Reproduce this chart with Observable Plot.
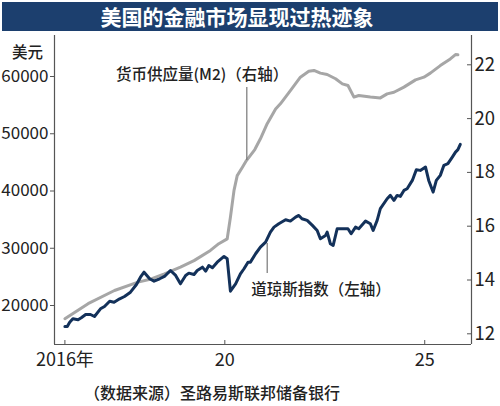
<!DOCTYPE html>
<html><head><meta charset="utf-8">
<script src="https://cdn.jsdelivr.net/npm/d3@7"></script>
<script src="https://cdn.jsdelivr.net/npm/@observablehq/plot@0.6"></script>
<style>
body{margin:0;background:#fff;width:500px;height:406px;position:relative;overflow:hidden;font-family:'Noto Sans CJK SC',sans-serif;}
#title{position:absolute;left:2px;top:2px;width:496px;height:29px;box-sizing:border-box;padding-right:26px;background:#1c3f6e;color:#fff;font-weight:bold;font-size:21px;line-height:29px;text-align:center;}
#chart{position:absolute;left:0;top:33px;}
#unit{position:absolute;left:12px;top:40px;font-size:15.5px;font-weight:500;color:#222;}
#caption{position:absolute;left:84px;top:380px;font-size:16px;font-weight:500;color:#222;}
</style>
</head><body>
<div id="title"></div>
<div id="chart"></div>
<div id="unit"></div>
<div id="caption"></div>
<script>
const titleText = "美国的金融市场显现过热迹象";
const captionText = "（数据来源）圣路易斯联邦储备银行";
const unitText = "美元";
const m2Label = "货币供应量(M2)（右轴）";
const dowLabel = "道琼斯指数（左轴）";

const dowYear = [2016.0,2016.06,2016.12,2016.2,2016.33,2016.41,2016.52,2016.64,2016.74,2016.89,
 2016.99,2017.12,2017.23,2017.37,2017.49,2017.64,2017.79,2017.89,2017.98,2018.12,
 2018.23,2018.37,2018.49,2018.64,2018.77,2018.89,2019.02,2019.1,2019.23,2019.31,
 2019.44,2019.52,2019.6,2019.69,2019.81,2019.98,2020.06,2020.14,2020.27,2020.39,
 2020.48,2020.58,2020.64,2020.77,2020.89,2021.02,2021.14,2021.23,2021.35,2021.52,
 2021.64,2021.77,2021.85,2021.93,2022.06,2022.19,2022.31,2022.39,2022.52,2022.56,
 2022.64,2022.71,2022.81,2022.94,2023.08,2023.16,2023.27,2023.35,2023.52,2023.64,
 2023.71,2023.81,2023.89,2024.06,2024.14,2024.23,2024.31,2024.39,2024.48,2024.56,
 2024.69,2024.79,2024.89,2025.02,2025.1,2025.21,2025.29,2025.39,2025.48,2025.58,
 2025.69,2025.77,2025.83,2025.89];
const dowValue = [16330,16330,17080,17675,17500,17850,18430,18430,18080,19420,
 19830,20750,20580,21170,21570,22330,23670,24950,25820,24670,
 24250,24670,25070,26120,25250,23790,25250,25650,25420,26120,
 26700,26000,26990,26590,27570,28570,28160,22500,23790,25540,
 26420,27570,27570,29040,30190,31070,32810,33690,34280,34980,
 34740,35440,35730,35160,34860,33990,33110,31660,32240,32810,
 30790,30490,33410,33410,33410,32530,33690,33410,34740,34280,
 33110,34860,36910,38650,39230,38360,39230,39060,40100,40400,
 41850,43720,43600,44180,41850,39810,41850,42730,44480,44770,
 45930,46800,47220,48150];

const m2Year = [2016.0,2016.58,2017.24,2017.83,2018.16,2018.49,2018.89,2019.23,2019.64,2019.85,
 2020.06,2020.14,2020.23,2020.31,2020.44,2020.54,2020.75,2020.89,2021.06,2021.27,
 2021.39,2021.64,2021.89,2022.1,2022.23,2022.39,2022.56,2022.77,2022.94,2023.08,
 2023.23,2023.35,2023.64,2023.89,2024.06,2024.23,2024.48,2024.77,2024.98,2025.14,
 2025.39,2025.64,2025.77,2025.83];
const m2Value = [12.56,13.12,13.61,13.92,14.04,14.23,14.48,14.72,15.10,15.35,
 15.53,16.33,17.33,17.88,18.19,18.44,18.85,19.25,19.81,20.36,
 20.55,21.04,21.54,21.76,21.79,21.69,21.64,21.48,21.29,21.23,
 20.80,20.86,20.80,20.77,20.92,20.98,21.17,21.44,21.54,21.69,
 21.97,22.22,22.38,22.37];

const leftTicks = [20000,30000,40000,50000,60000];
const rightTicks = [12,14,16,18,20,22];
const xTicks = [2016,2020,2025];
const xTickLabels = ["2016年","20","25"];

const xDomain = [2015.74, 2026.17];
const yDomain = [13188, 67162];
const y2Domain = [12, 22];
const y2Range = [15057, 62044];

// annotation anchors in data units
const m2LabelAt = [2017.28, 60175];
const m2Leader = [2020.55, 58080, 45330];
const dowLabelAt = [2020.66, 22620];
const dowLeader = [2021.06, 30830, 25590];

document.getElementById("title").textContent = titleText;
document.getElementById("caption").textContent = captionText;
document.getElementById("unit").textContent = unitText;

const y2 = d3.scaleLinear(y2Domain, y2Range);
const dow = dowYear.map((t, i) => ({t, v: dowValue[i]}));
const m2 = m2Year.map((t, i) => ({t, v: m2Value[i]}));

const axisColor = "#555";
const textColor = "#222";
const numFont = "'Liberation Sans Narrow','Noto Sans CJK SC',sans-serif";
const cjkFont = "'Noto Sans CJK SC',sans-serif";

const chart = Plot.plot({
  width: 500, height: 340,
  marginLeft: 54, marginRight: 29, marginTop: 2, marginBottom: 29,
  style: {fontFamily: numFont, fontSize: "17px", color: textColor, background: "transparent", overflow: "visible"},
  x: {domain: xDomain, label: null},
  y: {domain: yDomain, label: null},
  marks: [
    Plot.ruleX([xDomain[0], xDomain[1]], {stroke: axisColor, strokeWidth: 1.2}),
    Plot.ruleY([yDomain[0]], {stroke: axisColor, strokeWidth: 1.2}),
    Plot.line(m2, {x: "t", y: d => y2(d.v), stroke: "#a6a6a6", strokeWidth: 3, strokeLinejoin: "round"}),
    Plot.line(dow, {x: "t", y: "v", stroke: "#13315a", strokeWidth: 3, strokeLinejoin: "round"}),
    Plot.ruleX([m2Leader], {x: d => d[0], y1: d => d[1], y2: d => d[2], stroke: "#777", strokeWidth: 1.2}),
    Plot.ruleX([dowLeader], {x: d => d[0], y1: d => d[1], y2: d => d[2], stroke: "#777", strokeWidth: 1.2}),
    Plot.text([m2Label], {x: () => m2LabelAt[0], y: () => m2LabelAt[1], text: d => d, textAnchor: "start", fontSize: 15.5, fontWeight: 500, fontFamily: cjkFont, fill: textColor}),
    Plot.text([dowLabel], {x: () => dowLabelAt[0], y: () => dowLabelAt[1], text: d => d, textAnchor: "start", fontSize: 15.5, fontWeight: 500, fontFamily: cjkFont, fill: textColor}),
    Plot.axisY(leftTicks, {anchor: "left", tickSize: 4, tickPadding: 2, tickFormat: d3.format("d"), stroke: axisColor, fill: textColor, fontSize: 17}),
    Plot.axisY(rightTicks, {anchor: "right", y: y2, tickSize: 0, tickPadding: 3, tickFormat: d => String(d), fill: textColor, fontSize: 18.5}),
    Plot.tickY(rightTicks, {y: y2, insetLeft: 413, stroke: axisColor}),
    Plot.axisX(xTicks, {anchor: "bottom", tickSize: 0, tickPadding: 9, tickFormat: (d, i) => xTickLabels[xTicks.indexOf(d)], fill: textColor, fontSize: 18}),
    Plot.tickX(xTicks, {x: d => d, insetTop: 305, stroke: axisColor})
  ]
});
document.getElementById("chart").appendChild(chart);
</script>
</body></html>
